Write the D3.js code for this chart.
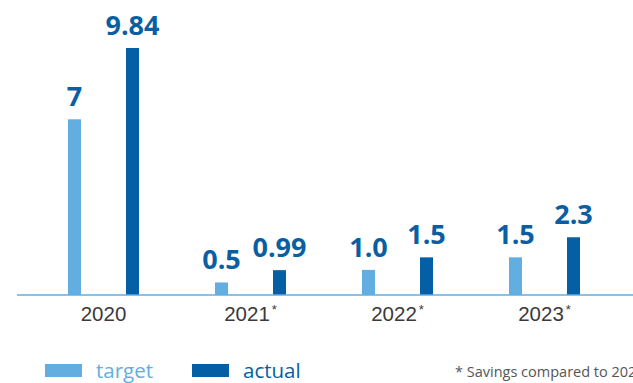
<!DOCTYPE html>
<html>
<head>
<meta charset="utf-8">
<script src="https://cdn.jsdelivr.net/npm/d3@7"></script>
<style>
  html, body { margin: 0; padding: 0; background: #fff; }
  svg { display: block; font-family: "Open Sans", "Noto Sans", sans-serif; }
</style>
</head>
<body>
<svg id="chart" width="633" height="383"></svg>
<script>
const years = ["2020", "2021", "2022", "2023"];
const yearStars = ["", "*", "*", "*"];
const seriesNames = ["target", "actual"];
const targetValues = [7, 0.5, 1.0, 1.5];
const actualValues = [9.84, 0.99, 1.5, 2.3];
const targetLabels = ["7", "0.5", "1.0", "1.5"];
const actualLabels = ["9.84", "0.99", "1.5", "2.3"];
const footnote = "* Savings compared to 2020";

const colors = { target: "#62aee0", actual: "#055fa4" };
const labelColor = "#0a5fa2";

const svg = d3.select("#chart");
const baseY = 295;

const x = d3.scaleBand().domain(years).range([30, 618]).padding(0);
const xs = d3.scalePoint().domain(seriesNames).range([-29, 29]);
const y = d3.scaleLinear().domain([0, 10]).range([baseY, baseY - 251]);
const barW = 13;

const rows = [];
years.forEach((yr, i) => {
  rows.push({ year: yr, s: "target", v: targetValues[i], label: targetLabels[i] });
  rows.push({ year: yr, s: "actual", v: actualValues[i], label: actualLabels[i] });
});
const cx = d => x(d.year) + x.bandwidth() / 2 + xs(d.s);

svg.append("g").selectAll("rect").data(rows).join("rect")
  .attr("x", d => cx(d) - barW / 2)
  .attr("y", d => y(d.v))
  .attr("width", barW)
  .attr("height", d => y(0) - y(d.v))
  .attr("fill", d => colors[d.s]);

svg.append("g").selectAll("text").data(rows).join("text")
  .attr("x", d => cx(d))
  .attr("y", d => y(d.v) - 13)
  .attr("text-anchor", "middle")
  .attr("font-size", 27)
  .attr("font-weight", 700)
  .attr("fill", labelColor)
  .text(d => d.label);

// baseline
svg.append("line")
  .attr("x1", 17).attr("x2", 633)
  .attr("y1", y(0)).attr("y2", y(0))
  .attr("stroke", colors.target).attr("stroke-width", 1.5);

// x axis labels
const axis = d3.axisBottom(x).tickSize(0).tickPadding(0).tickFormat("");
const ag = svg.append("g").attr("transform", `translate(0,${baseY})`).call(axis);
ag.select(".domain").remove();
ag.selectAll(".tick").each(function(d, i) {
  const t = d3.select(this).append("text")
    .attr("y", 26)
    .attr("text-anchor", "middle")
    .attr("font-size", 20.5)
    .attr("fill", "#3a3a3a");
  t.append("tspan").text(d);
  if (yearStars[i]) {
    t.append("tspan").attr("font-size", 13).attr("dx", 2).attr("dy", -7).text(yearStars[i]);
  }
});

// legend
const legend = svg.append("g");
const legendItems = [
  { s: "target", rx: 45, tx: 96 },
  { s: "actual", rx: 192, tx: 243 }
];
legendItems.forEach(it => {
  legend.append("rect").attr("x", it.rx).attr("y", 364).attr("width", 37).attr("height", 13)
    .attr("fill", colors[it.s]);
  legend.append("text").attr("x", it.tx).attr("y", 378)
    .attr("font-size", 20.5).attr("fill", colors[it.s]).text(it.s);
});

svg.append("text").attr("x", 455).attr("y", 377)
  .attr("font-size", 14.5).attr("fill", "#555").text(footnote);
</script>
</body>
</html>
